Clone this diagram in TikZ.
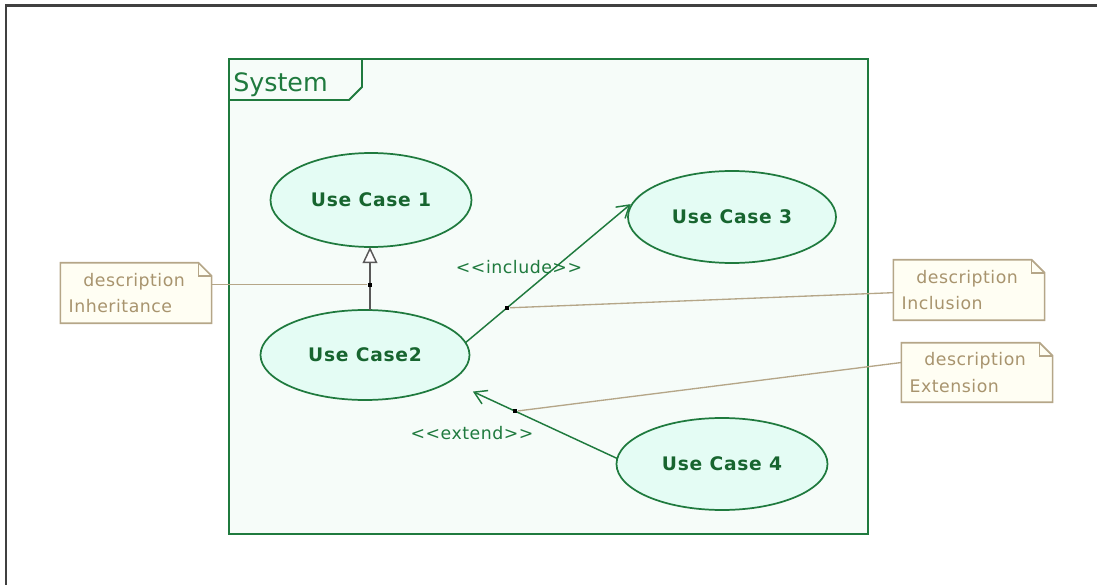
\documentclass[tikz,border=0pt]{standalone}
\usepackage{fontspec}
\setmainfont{DejaVu Sans}
\newfontfamily\ucfont[LetterSpace=4]{DejaVu Sans}
\newfontfamily\notefont[LetterSpace=3]{DejaVu Sans}
\newfontfamily\stereofont[LetterSpace=3,Ligatures=NoCommon]{DejaVu Sans}
\usetikzlibrary{shapes.geometric,arrows.meta,backgrounds}
\definecolor{umlgreen}{HTML}{1F7A3E}
\definecolor{uctext}{HTML}{17652F}
\definecolor{ucfill}{HTML}{E4FCF4}
\definecolor{sysfill}{HTML}{F6FCF9}
\definecolor{notefill}{HTML}{FFFEF3}
\definecolor{noteedge}{HTML}{B5A688}
\definecolor{notetext}{HTML}{A8946E}
\definecolor{framegray}{HTML}{404040}
\begin{document}
\begin{tikzpicture}[x=0.75pt,y=-0.75pt,
  usecase/.style={ellipse, draw=umlgreen, fill=ucfill, line width=1.3pt,
    inner sep=0pt, outer sep=0pt, text=uctext,
    font=\ucfont\fontsize{14}{16}\selectfont\bfseries},
  notebox/.style={draw=none, align=left, inner xsep=6pt, inner ysep=0pt,
    minimum height=45pt, text width=101pt, text=notetext,
    font=\notefont\fontsize{13}{20}\selectfont},
  noteedge/.style={draw=noteedge, line width=1.2pt, fill=notefill},
  noteline/.style={draw=noteedge, line width=1pt},
  assoc/.style={draw=umlgreen, line width=1.1pt,
    -{Straight Barb[length=9pt,width=11pt,line width=1.1pt]}},
  genline/.style={draw=black!65, line width=1.1pt,
    -{Triangle[open,length=12pt,width=11pt,fill=white,line width=1.1pt]}},
  dotsq/.style={rectangle, fill=black, minimum size=3.2pt, inner sep=0pt},
  stereo/.style={text=umlgreen, font=\stereofont\fontsize{13}{15}\selectfont},
]
\useasboundingbox (0,0) rectangle (1097,585);

% outer frame (top and left edges)
\draw[framegray, line width=1.6pt] (6,585) -- (6,5.5) -- (1097,5.5);

% system boundary with its name tab
\draw[umlgreen, line width=1.4pt, fill=sysfill] (229,59) rectangle (868,534);
\draw[umlgreen, line width=1.4pt] (229,100) -- (349,100) -- (362,87) -- (362,59);
\node[anchor=base west, inner sep=0pt, text=umlgreen,
  font=\fontsize{19}{21}\selectfont] (sysname) at (233,92) {System};

% use cases
\node[usecase, minimum width=150.75pt, minimum height=70.5pt] (uc1) at (371,200) {Use Case 1};
\node[usecase, minimum width=156.75pt, minimum height=67.5pt] (uc2) at (365,355) {Use Case2};
\node[usecase, minimum width=156pt, minimum height=69pt] (uc3) at (732,217) {Use Case 3};
\node[usecase, minimum width=158.25pt, minimum height=69pt] (uc4) at (722,464) {Use Case 4};

% generalization, include and extend relations
\draw[genline] ([xshift=3.75pt]uc2.north) -- node[pos=0.4, dotsq] (dotG) {} ([xshift=-0.75pt]uc1.south);
\draw[assoc, shorten >=15.5pt] (uc2.7) -- node[pos=0.229, dotsq] (dotI) {} (uc3.163);
\draw[assoc, shorten >=18.75pt] (uc4.177) -- node[pos=0.61, dotsq] (dotE) {} (uc2.-17.6);
\node[stereo] (lblInc) at (519,267) {{<}{<}include{>}{>}};
\node[stereo] (lblExt) at (472,433) {{<}{<}extend{>}{>}};

% notes
\node[notebox] (noteInh) at (136,293) {\hspace*{11pt}description\\Inheritance};
\node[notebox] (noteInc) at (969,290) {\hspace*{11pt}description\\Inclusion};
\node[notebox, minimum height=44.25pt] (noteExt) at (977,372.5) {\hspace*{11pt}description\\Extension};
\begin{scope}[on background layer]
  \foreach \n in {noteInh,noteInc,noteExt}{
    \draw[noteedge] (\n.north west) -- ([xshift=-9.75pt]\n.north east)
      -- ([yshift=-9.75pt]\n.north east) -- (\n.south east) -- (\n.south west) -- cycle;
    \draw[noteedge, fill=none] ([xshift=-9.75pt]\n.north east) |- ([yshift=-9.75pt]\n.north east);
  }
\end{scope}

% note attachments
\draw[noteline] (dotG) -- (noteInh.east |- dotG);
\draw[noteline] (dotI) -- ([yshift=-2pt]noteInc.west);
\draw[noteline] (dotE) -- ([yshift=7.5pt]noteExt.west);
\end{tikzpicture}
\end{document}
